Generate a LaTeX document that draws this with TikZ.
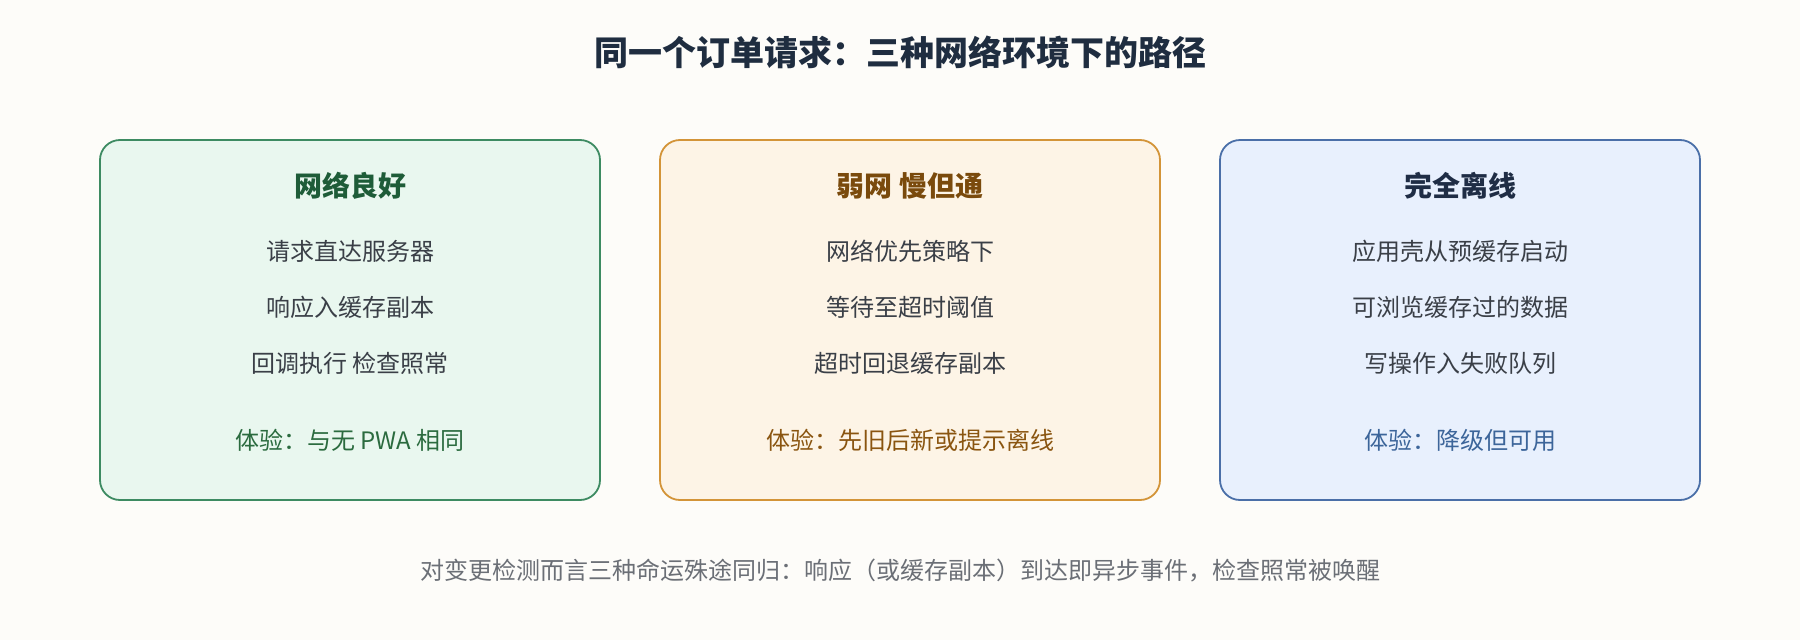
\documentclass[tikz,border=0pt]{standalone}
\usepackage{fontspec}
\setmainfont{Noto Sans CJK SC}
\definecolor{bg}{HTML}{FDFCF9}
\definecolor{titletext}{HTML}{1F2D40}
\definecolor{bodytext}{HTML}{3A3F47}
\definecolor{notetext}{HTML}{6B6F76}
\definecolor{gfill}{HTML}{E9F7EF}
\definecolor{gline}{HTML}{3D8B62}
\definecolor{ghead}{HTML}{1E5C38}
\definecolor{gexp}{HTML}{2B6B3F}
\definecolor{wfill}{HTML}{FDF4E6}
\definecolor{wline}{HTML}{D39438}
\definecolor{whead}{HTML}{7A4A0C}
\definecolor{wexp}{HTML}{8A5510}
\definecolor{ofill}{HTML}{E8F0FD}
\definecolor{oline}{HTML}{4A6FA8}
\definecolor{ohead}{HTML}{1F2D45}
\definecolor{oexp}{HTML}{3C659A}
\begin{document}
\begin{tikzpicture}
  [x=1pt,y=-1pt,every node/.style={inner sep=0pt,text=bodytext,font=\fontsize{24}{28}\selectfont}]
  \tikzstyle{card} = [draw,rounded corners=20pt,line width=1.8pt,minimum width=500pt,minimum height=360pt]
  \tikzstyle{head} = [font=\fontsize{28}{32}\selectfont\bfseries]
  \fill[bg] (0,0) rectangle (1800,640);
  \useasboundingbox (0,0) rectangle (1800,640);
  \node[font=\fontsize{34}{40}\selectfont\bfseries,text=titletext] (title) at (900,52) {同一个订单请求：三种网络环境下的路径};
  % three cards
  \node[card,draw=gline,fill=gfill] (good) at (350,320) {};
  \node[card,draw=wline,fill=wfill] (weak) at (910,320) {};
  \node[card,draw=oline,fill=ofill,minimum width=480pt] (off) at (1460,320) {};
  \node[head,text=ghead] (gh) at (350,186) {网络良好};
  \node[head,text=whead] (wh) at (910,186) {弱网 慢但通};
  \node[head,text=ohead] (oh) at (1460,186) {完全离线};
  \foreach \txt [count=\i] in {请求直达服务器,响应入缓存副本,回调执行 检查照常}
    \node (g\i) at (350,{195+56*\i}) {\txt};
  \foreach \txt [count=\i] in {网络优先策略下,等待至超时阈值,超时回退缓存副本}
    \node (w\i) at (910,{195+56*\i}) {\txt};
  \foreach \txt [count=\i] in {应用壳从预缓存启动,可浏览缓存过的数据,写操作入失败队列}
    \node (o\i) at (1460,{195+56*\i}) {\txt};
  \node[text=gexp] (gx) at (350,440) {体验：与无 PWA 相同};
  \node[text=wexp] (wx) at (910,440) {体验：先旧后新或提示离线};
  \node[text=oexp] (ox) at (1460,440) {体验：降级但可用};
  \node[text=notetext] (note) at (900,571) {对变更检测而言三种命运殊途同归：响应（或缓存副本）到达即异步事件，检查照常被唤醒};
\end{tikzpicture}
\end{document}
